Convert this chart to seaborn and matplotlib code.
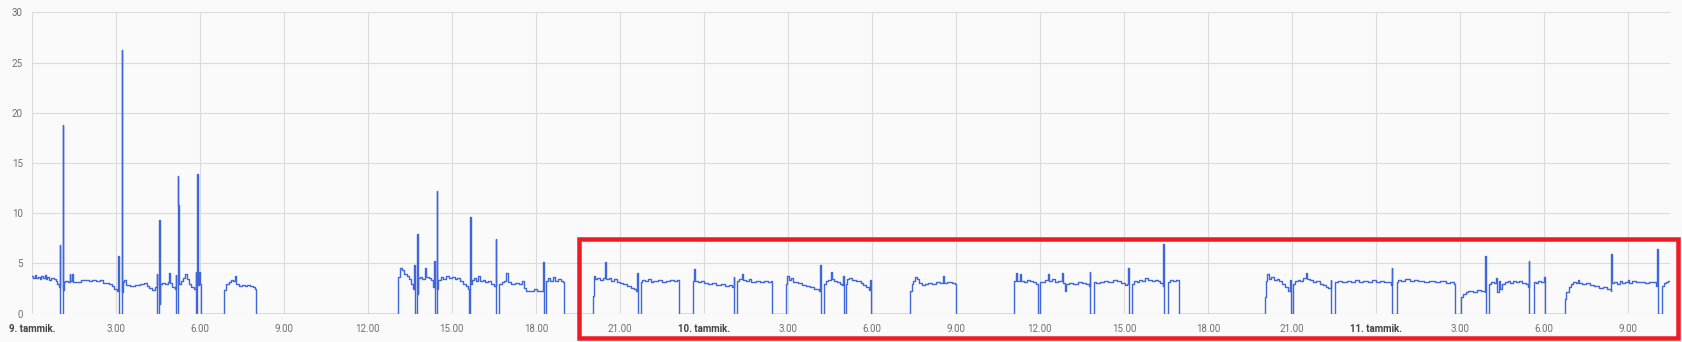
import numpy as np
import pandas as pd
import matplotlib
matplotlib.use("Agg")
import matplotlib.pyplot as plt
from matplotlib.patches import Rectangle
import seaborn as sns

# ---- data: hours since 9. tammik. 00:00 and readings (step series) ----
hours = [
    0.00, 0.05, 0.10, 0.15, 0.22, 0.28, 0.33, 0.40, 0.46, 0.50, 0.55, 0.62, 0.70, 0.78, 0.85, 0.92, 0.97,
    1.00, 1.02, 1.10, 1.12, 1.14, 1.20, 1.28, 1.35, 1.38, 1.45, 1.48, 1.60, 1.75, 1.90, 2.05, 2.15, 2.30,
    2.45, 2.55, 2.75, 2.85, 2.95, 3.05, 3.09, 3.11, 3.13, 3.21, 3.23, 3.25, 3.30, 3.35, 3.50, 3.70, 3.85,
    4.00, 4.10, 4.20, 4.30, 4.40, 4.47, 4.49, 4.55, 4.57, 4.59, 4.65, 4.75, 4.85, 4.92, 4.95, 5.02, 5.10,
    5.15, 5.17, 5.22, 5.24, 5.26, 5.32, 5.40, 5.48, 5.55, 5.62, 5.70, 5.80, 5.85, 5.87, 5.92, 5.94, 5.98,
    6.00, 6.04,
    6.85, 6.88, 6.95, 7.05, 7.12, 7.20, 7.26, 7.30, 7.40, 7.50, 7.60, 7.70, 7.80, 7.90, 7.97, 8.00,
    13.07, 13.09, 13.15, 13.22, 13.30, 13.40, 13.48, 13.55, 13.62, 13.66, 13.68, 13.76, 13.78, 13.80,
    13.88, 13.95, 14.05, 14.08, 14.18, 14.25, 14.33, 14.38, 14.40, 14.47, 14.49, 14.52, 14.60, 14.70,
    14.80, 14.90, 15.00, 15.10, 15.20, 15.30, 15.40, 15.50, 15.58, 15.60, 15.65, 15.67, 15.72, 15.80,
    15.88, 15.95, 16.00, 16.10, 16.20, 16.30, 16.40, 16.50, 16.57, 16.59, 16.70, 16.78, 16.85, 16.95,
    17.00, 17.10, 17.25, 17.40, 17.50, 17.58, 17.65, 17.80, 17.95, 18.05, 18.25, 18.28, 18.37, 18.45,
    18.52, 18.60, 18.70, 18.80, 18.90, 18.98, 19.00,
    20.05, 20.08, 20.12, 20.20, 20.30, 20.40, 20.48, 20.50, 20.60, 20.70, 20.80, 20.90, 21.00, 21.10,
    21.25, 21.40, 21.50, 21.58, 21.62, 21.64, 21.74, 21.80, 21.90, 22.00, 22.10, 22.20, 22.35, 22.50,
    22.65, 22.80, 22.95, 23.05, 23.10,
    23.62, 23.65, 23.70, 23.80, 23.90, 24.00, 24.15, 24.30, 24.45, 24.60, 24.75, 24.90, 25.00, 25.07,
    25.09, 25.19, 25.25, 25.35, 25.40, 25.50, 25.60, 25.70, 25.85, 26.00, 26.15, 26.30, 26.40, 26.44,
    26.95, 26.98, 27.05, 27.12, 27.20, 27.35, 27.50, 27.65, 27.80, 27.95, 28.10, 28.16, 28.18, 28.29,
    28.35, 28.45, 28.55, 28.58, 28.65, 28.75, 28.85, 28.95, 28.98, 29.00, 29.08, 29.12, 29.20, 29.30,
    29.45, 29.60, 29.70, 29.80, 29.90, 29.95, 29.97,
    31.37, 31.42, 31.48, 31.55, 31.62, 31.70, 31.80, 31.90, 32.00, 32.15, 32.30, 32.45, 32.55, 32.58,
    32.70, 32.85, 32.98, 33.00,
    35.06, 35.09, 35.15, 35.18, 35.30, 35.33, 35.45, 35.55, 35.65, 35.75, 35.85, 35.92, 36.01, 36.10,
    36.20, 36.30, 36.33, 36.45, 36.55, 36.65, 36.80, 36.83, 36.88, 36.95, 37.05, 37.20, 37.35, 37.50,
    37.65, 37.75, 37.78, 37.80, 37.92, 38.00, 38.15, 38.30, 38.45, 38.60, 38.75, 38.90, 39.05, 39.12,
    39.15, 39.17, 39.30, 39.35, 39.45, 39.55, 39.65, 39.75, 39.85, 40.00, 40.10, 40.20, 40.30, 40.38,
    40.40, 40.42, 40.56, 40.65, 40.75, 40.85, 40.95, 40.98,
    44.04, 44.07, 44.12, 44.18, 44.25, 44.35, 44.45, 44.55, 44.65, 44.75, 44.85, 44.93, 44.95, 45.05,
    45.10, 45.20, 45.30, 45.40, 45.50, 45.53, 45.65, 45.75, 45.85, 46.00, 46.10, 46.20, 46.30, 46.38,
    46.40, 46.54, 46.65, 46.80, 46.95, 47.10, 47.25, 47.40, 47.55, 47.70, 47.85, 48.00, 48.15, 48.30,
    48.45, 48.55, 48.57, 48.59, 48.75, 48.80, 48.90, 49.05, 49.20, 49.35, 49.50, 49.70, 49.90, 50.10,
    50.30, 50.50, 50.65, 50.80, 50.82,
    51.05, 51.10, 51.20, 51.30, 51.45, 51.60, 51.75, 51.88, 51.90, 51.92, 52.04, 52.12, 52.20, 52.28,
    52.32, 52.38, 52.42, 52.50, 52.60, 52.70, 52.80, 52.90, 53.00, 53.10, 53.20, 53.35, 53.42, 53.46,
    53.48, 53.64, 53.72, 53.80, 53.90, 54.00, 54.04,
    54.75, 54.80, 54.88, 54.95, 55.05, 55.15, 55.20, 55.25, 55.35, 55.50, 55.65, 55.80, 55.95, 56.10,
    56.25, 56.38, 56.41, 56.43, 56.50, 56.60, 56.70, 56.80, 56.90, 57.00, 57.05, 57.15, 57.30, 57.45,
    57.60, 57.75, 57.90, 58.00, 58.05, 58.07, 58.20, 58.28, 58.36, 58.44, 58.50,
]
values = [
    3.8, 3.6, 3.9, 3.6, 3.7, 3.5, 3.8, 3.6, 3.9, 3.5, 3.7, 3.4, 3.6, 3.5, 3.3, 3.0, 2.7,
    6.8, 0.0, 18.8, 2.4, 3.2, 3.3, 3.2, 4.0, 3.3, 4.0, 3.2, 3.2, 3.4, 3.4, 3.3, 3.4, 3.3,
    3.4, 3.1, 3.0, 2.8, 2.5, 2.3, 5.7, 2.0, 0.0, 26.2, 2.2, 3.2, 3.4, 2.9, 2.8, 2.85, 3.0,
    3.1, 2.8, 2.6, 2.4, 2.7, 4.0, 0.0, 9.3, 1.0, 3.0, 3.1, 3.0, 3.2, 4.1, 3.1, 2.7, 2.5,
    3.9, 0.0, 13.7, 10.8, 3.0, 3.3, 3.6, 4.0, 3.5, 3.0, 2.7, 2.5, 4.2, 0.0, 13.9, 2.9, 4.2,
    3.0, 0.0,
    1.0, 2.4, 3.0, 3.2, 3.4, 3.3, 3.75, 3.0, 2.8, 2.9, 2.75, 2.9, 2.8, 2.7, 2.5, 0.0,
    2.0, 3.7, 4.5, 4.3, 4.0, 3.8, 3.5, 3.0, 2.5, 4.8, 0.0, 7.9, 2.0, 3.6,
    3.7, 3.5, 4.5, 3.7, 3.6, 3.4, 2.7, 5.2, 0.0, 12.2, 2.5, 3.4, 3.7, 3.5,
    3.8, 3.6, 3.7, 3.5, 3.6, 3.3, 3.0, 2.8, 2.5, 0.0, 9.6, 3.0, 3.4, 3.6,
    3.3, 3.8, 3.3, 3.4, 3.2, 3.3, 3.0, 2.8, 7.4, 0.0, 3.0, 3.2, 3.3, 4.1,
    3.2, 3.0, 3.1, 3.0, 3.3, 2.6, 2.3, 2.3, 2.5, 2.3, 5.1, 0.0, 3.3, 3.6,
    3.3, 3.7, 3.3, 3.5, 3.3, 3.2, 0.0,
    1.8, 3.8, 3.5, 3.6, 3.4, 3.6, 5.1, 3.5, 3.6, 3.3, 3.5, 3.2, 3.1, 3.0,
    2.8, 2.6, 2.5, 2.3, 4.1, 0.0, 3.2, 3.4, 3.3, 3.5, 3.2, 3.3, 3.4, 3.2,
    3.3, 3.4, 3.3, 3.4, 0.0,
    3.3, 4.4, 3.3, 3.2, 3.3, 3.1, 3.0, 3.1, 2.9, 3.0, 2.8, 2.9, 2.7, 3.7,
    0.0, 3.3, 3.5, 4.0, 3.4, 3.3, 3.5, 3.2, 3.3, 3.2, 3.3, 3.2, 3.3, 0.0,
    3.0, 3.8, 3.4, 3.6, 3.2, 3.1, 2.9, 2.8, 2.7, 2.5, 2.3, 4.8, 0.0, 3.0,
    3.3, 3.4, 4.2, 3.5, 3.3, 3.2, 3.0, 2.9, 3.8, 0.0, 3.0, 3.5, 3.6, 3.4,
    3.3, 3.1, 2.9, 2.7, 2.4, 3.4, 0.0,
    2.3, 3.0, 3.3, 3.7, 3.5, 3.1, 2.9, 3.0, 3.1, 3.0, 3.2, 3.1, 3.8, 3.1,
    3.2, 3.1, 3.0, 0.0,
    1.7, 3.3, 4.1, 3.3, 4.0, 3.3, 3.2, 3.4, 3.3, 3.2, 3.0, 0.0, 3.2, 3.2,
    3.4, 4.0, 3.3, 3.5, 3.2, 3.3, 4.1, 3.1, 2.3, 3.0, 3.1, 3.0, 3.2, 3.1,
    3.0, 2.8, 4.2, 0.0, 3.2, 3.1, 3.2, 3.3, 3.2, 3.4, 3.3, 3.1, 2.9, 3.0,
    4.5, 0.0, 3.0, 3.3, 3.2, 3.4, 3.3, 3.6, 3.4, 3.3, 3.4, 3.3, 3.1, 2.8,
    6.9, 0.0, 3.2, 3.4, 3.3, 3.4, 3.3, 0.0,
    1.7, 3.3, 4.0, 3.5, 3.7, 3.4, 3.5, 3.3, 3.0, 2.7, 2.3, 3.4, 0.0, 3.0,
    3.3, 3.4, 3.3, 3.6, 4.1, 3.5, 3.4, 3.2, 3.3, 3.0, 2.9, 2.7, 2.6, 3.4,
    0.0, 3.2, 3.3, 3.2, 3.3, 3.2, 3.4, 3.2, 3.3, 3.2, 3.4, 3.2, 3.3, 3.2,
    3.2, 2.9, 4.5, 0.0, 3.2, 3.4, 3.3, 3.5, 3.3, 3.4, 3.3, 3.2, 3.3, 3.2,
    3.3, 3.1, 3.2, 3.0, 0.0,
    1.7, 2.0, 2.2, 2.3, 2.2, 2.4, 2.3, 2.2, 5.7, 0.0, 3.0, 3.2, 3.1, 3.6,
    2.2, 3.3, 2.5, 3.0, 3.2, 3.3, 3.1, 3.3, 3.2, 3.3, 3.1, 3.0, 2.7, 5.2,
    0.0, 3.2, 3.1, 3.3, 3.2, 3.7, 0.0,
    1.5, 2.2, 2.7, 3.0, 3.2, 3.1, 3.4, 3.1, 3.0, 3.1, 2.9, 2.8, 2.6, 2.7,
    2.5, 2.3, 5.9, 3.1, 3.2, 3.0, 3.3, 3.1, 3.2, 3.4, 3.1, 3.3, 3.2, 3.2,
    3.1, 3.2, 3.2, 2.8, 6.4, 0.0, 2.8, 3.1, 3.2, 3.3, 3.3,
]

tick_hours = list(range(0, 58, 3))
tick_labels = ["9. tammik.", "3.00", "6.00", "9.00", "12.00", "15.00", "18.00", "21.00",
               "10. tammik.", "3.00", "6.00", "9.00", "12.00", "15.00", "18.00", "21.00",
               "11. tammik.", "3.00", "6.00", "9.00"]
y_ticks = [0, 5, 10, 15, 20, 25, 30]
unit_label = "kW"

# ---- style ----
sns.set_theme(style="whitegrid")
plt.rcParams["font.family"] = ["Roboto", "DejaVu Sans"]

W, H = 1682, 342
fig = plt.figure(figsize=(W / 100, H / 100), dpi=100, facecolor="#fafafa")
x0, x1 = 31.7, 1670.0
ytop, ybot = 12.3, 313.7
ax = fig.add_axes([x0 / W, (H - ybot) / H, (x1 - x0) / W, (ybot - ytop) / H])
ax.set_facecolor("#fafafa")

df = pd.DataFrame({"hours": hours, "value": values})
sns.lineplot(data=df, x="hours", y="value", ax=ax, estimator=None, sort=False,
             drawstyle="steps-post", color="#3f66db", linewidth=1.0)

ax.set_xlim(0, 58.5)
ax.set_ylim(0, 30)
ax.set_xticks(tick_hours)
ax.set_xticklabels(tick_labels)
ax.set_yticks(y_ticks)
ax.set_yticklabels([str(v) for v in y_ticks])
ax.set_xlabel("")
ax.set_ylabel("")

for lab in ax.get_xticklabels():
    if "tammik" in lab.get_text():
        lab.set_fontweight("bold")
        lab.set_color("#444444")
    else:
        lab.set_color("#707070")
for lab in ax.get_yticklabels():
    lab.set_color("#707070")

ax.tick_params(axis="x", length=2, width=0.8, color="#dcdcdc", pad=5.5, labelsize=7)
ax.tick_params(axis="y", length=0, pad=6.5, labelsize=7)
ax.grid(True, color="#dcdcdc", linewidth=0.8)
for s in ax.spines.values():
    s.set_visible(False)

# clipped unit label at far left
fig.text(2.7 / W, (H - 164) / H, unit_label, rotation=90, ha="right", va="center",
         fontsize=7, color="#707070")

# red highlight rectangle
left, right, top, bottom = 579.2, 1678.3, 239.2, 337.9
fig.add_artist(Rectangle((left / W, (H - bottom) / H), (right - left) / W, (bottom - top) / H,
                         transform=fig.transFigure, fill=False, edgecolor="#ed1c24",
                         linewidth=4.5 * 0.72, clip_on=False))

fig.savefig("out.png", dpi=100, facecolor=fig.get_facecolor())
